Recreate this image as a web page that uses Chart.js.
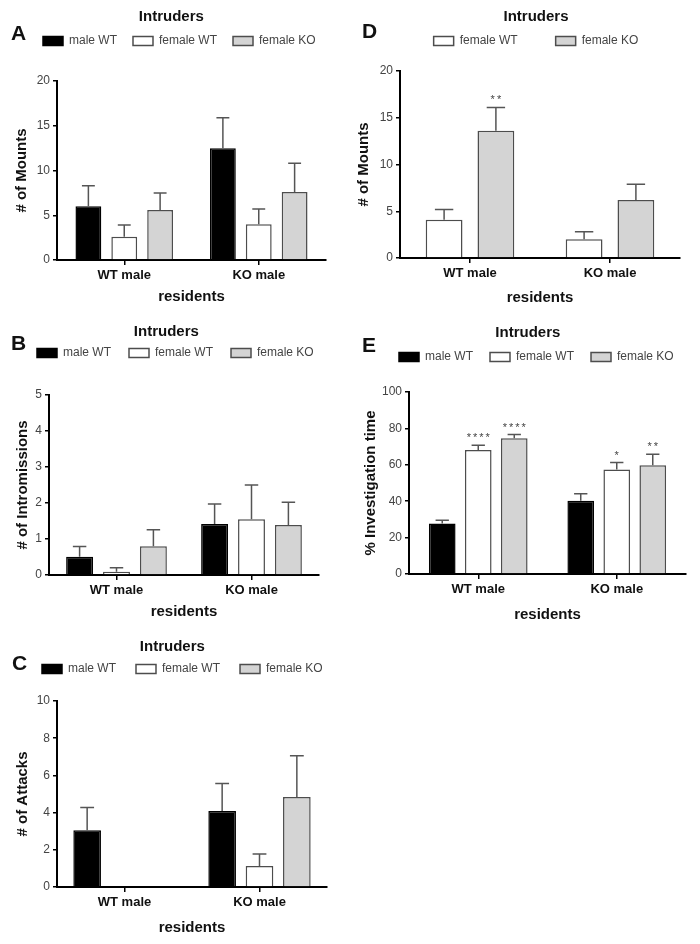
<!DOCTYPE html>
<html>
<head>
<meta charset="utf-8">
<title>Intruders / residents</title>
<script src="https://cdn.jsdelivr.net/npm/chart.js@4.4.1/dist/chart.umd.min.js"></script>
<style>
  html, body { margin: 0; padding: 0; background: #fff; }
  #page { position: relative; width: 700px; height: 944px; overflow: hidden; background: #fff; }
  #page canvas { position: absolute; }
  .panel-letter { position: absolute; font: bold 21px "Liberation Sans", Arial, sans-serif; color: #111; line-height: 1; }
</style>
</head>
<body>
<div id="page">
  <canvas id="chartA" width="350" height="310" style="left:0;top:0"></canvas>
  <canvas id="chartD" width="350" height="310" style="left:350px;top:0"></canvas>
  <canvas id="chartB" width="350" height="320" style="left:0;top:305px"></canvas>
  <canvas id="chartE" width="350" height="320" style="left:350px;top:305px"></canvas>
  <canvas id="chartC" width="350" height="319" style="left:0;top:625px"></canvas>
  <div class="panel-letter" style="left:11px;top:22px">A</div>
  <div class="panel-letter" style="left:362px;top:20px">D</div>
  <div class="panel-letter" style="left:11px;top:332px">B</div>
  <div class="panel-letter" style="left:362px;top:334px">E</div>
  <div class="panel-letter" style="left:12px;top:652px">C</div>
</div>
<script>
// categories (residents) and intruder groups
const residents = ['WT male', 'KO male'];
const intruderLabels = ['male WT', 'female WT', 'female KO'];

// A - # of Mounts (mean, SEM)
const mountsMaleWT = [6.0, 12.5];
const mountsMaleWTSem = [2.3, 3.4];
const mountsFemaleWT = [2.6, 4.0];
const mountsFemaleWTSem = [1.3, 1.7];
const mountsFemaleKO = [5.6, 7.6];
const mountsFemaleKOSem = [1.9, 3.2];

// B - # of Intromissions
const intromMaleWT = [0.51, 1.42];
const intromMaleWTSem = [0.28, 0.55];
const intromFemaleWT = [0.09, 1.55];
const intromFemaleWTSem = [0.11, 0.95];
const intromFemaleKO = [0.80, 1.39];
const intromFemaleKOSem = [0.46, 0.63];

// C - # of Attacks
const attacksMaleWT = [3.05, 4.09];
const attacksMaleWTSem = [1.23, 1.48];
const attacksFemaleWT = [0, 1.13];
const attacksFemaleWTSem = [0, 0.64];
const attacksFemaleKO = [0, 4.84];
const attacksFemaleKOSem = [0, 2.22];

// D - # of Mounts, female intruders only
const femMountsWT = [4.1, 2.0];
const femMountsWTSem = [1.1, 0.8];
const femMountsKO = [13.6, 6.2];
const femMountsKOSem = [2.5, 1.7];
const femMountsKOStars = ['**', ''];

// E - % Investigation time
const investMaleWT = [27.8, 40.2];
const investMaleWTSem = [1.8, 3.9];
const investFemaleWT = [68.2, 57.4];
const investFemaleWTSem = [2.5, 3.8];
const investFemaleWTStars = ['****', '*'];
const investFemaleKO = [74.6, 59.8];
const investFemaleKOSem = [2.0, 6.0];
const investFemaleKOStars = ['****', '**'];

// bar styles per intruder group
const STYLE_MALE_WT = { fill: '#000000', stroke: '#000000' };
const STYLE_FEMALE_WT = { fill: '#ffffff', stroke: '#4d4d4d' };
const STYLE_FEMALE_KO = { fill: '#d4d4d4', stroke: '#4d4d4d' };

Chart.defaults.font.family = '"Liberation Sans", Arial, sans-serif';

// Draws upward SEM bars (and significance stars) on top of each bar
const errorBarPlugin = {
    id: 'errorBars',
    afterDatasetsDraw(chart) {
        const ctx = chart.ctx;
        const yScale = chart.scales.y;
        ctx.save();
        chart.data.datasets.forEach((ds, i) => {
            const meta = chart.getDatasetMeta(i);
            meta.data.forEach((bar, j) => {
                const sem = ds.errors ? ds.errors[j] : 0;
                if (!sem) return;
                const top = yScale.getPixelForValue(ds.data[j] + sem);
                const capHalf = bar.width / 4;
                ctx.strokeStyle = '#555';
                ctx.lineWidth = 1.5;
                ctx.beginPath();
                ctx.moveTo(bar.x, bar.y);
                ctx.lineTo(bar.x, top);
                ctx.moveTo(bar.x - capHalf, top);
                ctx.lineTo(bar.x + capHalf, top);
                ctx.stroke();
                const star = ds.stars ? ds.stars[j] : '';
                if (star) {
                    ctx.fillStyle = '#444';
                    ctx.font = '11px "Liberation Sans", Arial, sans-serif';
                    ctx.textAlign = 'center';
                    ctx.textBaseline = 'alphabetic';
                    ctx.letterSpacing = '2px';
                    ctx.fillText(star, bar.x + 1, top - 4);
                    ctx.letterSpacing = '0px';
                }
            });
        });
        ctx.restore();
    }
};

function makeDataset(label, style, values, sem, stars, setup) {
    return {
        label: label, data: values, errors: sem, stars: stars || null,
        xAxisID: 'x', yAxisID: 'y',
        backgroundColor: style.fill, borderColor: style.stroke, borderWidth: 1.5,
        categoryPercentage: setup.catPct, barPercentage: setup.barPct
    };
}

function createPanel(canvasId, setup) {
    const canvas = document.getElementById(canvasId);
    if (!canvas) {
        console.error('Canvas not found: ' + canvasId);
        return null;
    }
    const ctx = canvas.getContext('2d');

    const config = {
        type: 'bar',
        data: { labels: residents, datasets: setup.datasets },
        options: {
            responsive: false, animation: false,
            layout: { padding: { left: setup.padLeft, top: setup.padTop, right: 0, bottom: 0 } },
            scales: {
                x: {
                    ticks: { color: '#111', font: { size: 13, weight: 'bold' }, padding: 3 },
                    grid: { offset: false, drawOnChartArea: false, drawTicks: true, tickLength: 5, color: '#000', lineWidth: 1.5 },
                    border: { color: '#000', width: 2 },
                    title: {
                        display: true, text: 'residents', color: '#111',
                        font: { size: 15, weight: 'bold' }, padding: { top: 0, bottom: setup.xTitlePad }
                    },
                    afterFit: scale => { scale.height = setup.xAxisHeight; scale.paddingRight = setup.rightGap; }
                },
                y: {
                    min: 0, max: setup.yMax,
                    ticks: { stepSize: setup.yStep, color: '#444', font: { size: 12 }, padding: 3 },
                    grid: { drawOnChartArea: false, drawTicks: true, tickLength: 4, color: '#000', lineWidth: 1.5 },
                    border: { color: '#000', width: 2 },
                    title: {
                        display: true, text: setup.yTitle, color: '#111',
                        font: { size: 15, weight: 'bold' }, padding: { top: setup.yTitleShift, bottom: 0 }
                    },
                    afterFit: scale => { scale.width = setup.yAxisWidth; }
                },
                // empty band between the legend and the plot
                gap: {
                    type: 'linear', position: 'top', display: true,
                    grid: { display: false }, border: { display: false }, ticks: { display: false },
                    afterFit: scale => {
                        const legendH = scale.chart.legend ? scale.chart.legend.height : 0;
                        scale.height = Math.max(0, setup.plotTop - setup.padTop - legendH);
                    }
                }
            },
            plugins: {
                legend: {
                    display: true, position: 'top', align: setup.legendAlign,
                    labels: { boxWidth: 20, boxHeight: 9, padding: setup.legendGap, color: '#444', font: { size: 12 } },
                    title: {
                        display: true, text: 'Intruders', color: '#111',
                        font: { size: 15, weight: 'bold' }, padding: { top: 0, bottom: setup.legendTitleGap }
                    }
                },
                tooltip: { enabled: false }
            }
        },
        plugins: [errorBarPlugin]
    };

    return new Chart(ctx, config);
}

// --- Panel A ---
const setupA = { catPct: 0.80, barPct: 0.72 };
setupA.datasets = [
    makeDataset(intruderLabels[0], STYLE_MALE_WT, mountsMaleWT, mountsMaleWTSem, null, setupA),
    makeDataset(intruderLabels[1], STYLE_FEMALE_WT, mountsFemaleWT, mountsFemaleWTSem, null, setupA),
    makeDataset(intruderLabels[2], STYLE_FEMALE_KO, mountsFemaleKO, mountsFemaleKOSem, null, setupA)
];
Object.assign(setupA, {
    padLeft: 27, padTop: 9.5, legendAlign: 'start', legendGap: 16, legendTitleGap: -8.5,
    yAxisWidth: 30, plotTop: 81, xAxisHeight: 50, rightGap: 24, xTitlePad: 4,
    yMax: 20, yStep: 5, yTitle: '# of Mounts', yTitleShift: -14
});
createPanel('chartA', setupA);

// --- Panel D ---
const setupD = { catPct: 0.74, barPct: 0.71 };
setupD.datasets = [
    makeDataset(intruderLabels[1], STYLE_FEMALE_WT, femMountsWT, femMountsWTSem, null, setupD),
    makeDataset(intruderLabels[2], STYLE_FEMALE_KO, femMountsKO, femMountsKOSem, femMountsKOStars, setupD)
];
Object.assign(setupD, {
    padLeft: 22, padTop: 9.5, legendAlign: 'center', legendGap: 38, legendTitleGap: -30.5,
    yAxisWidth: 28, plotTop: 71, xAxisHeight: 52, rightGap: 20, xTitlePad: 3,
    yMax: 20, yStep: 5, yTitle: '# of Mounts', yTitleShift: -17
});
createPanel('chartD', setupD);

// --- Panel B ---
const setupB = { catPct: 0.82, barPct: 0.73 };
setupB.datasets = [
    makeDataset(intruderLabels[0], STYLE_MALE_WT, intromMaleWT, intromMaleWTSem, null, setupB),
    makeDataset(intruderLabels[1], STYLE_FEMALE_WT, intromFemaleWT, intromFemaleWTSem, null, setupB),
    makeDataset(intruderLabels[2], STYLE_FEMALE_KO, intromFemaleKO, intromFemaleKOSem, null, setupB)
];
Object.assign(setupB, {
    padLeft: 19, padTop: 19.5, legendAlign: 'start', legendGap: 18, legendTitleGap: -13.5,
    yAxisWidth: 30, plotTop: 90, xAxisHeight: 50, rightGap: 31, xTitlePad: 4,
    yMax: 5, yStep: 1, yTitle: '# of Intromissions', yTitleShift: -5
});
createPanel('chartB', setupB);

// --- Panel E ---
const setupE = { catPct: 0.78, barPct: 0.74 };
setupE.datasets = [
    makeDataset(intruderLabels[0], STYLE_MALE_WT, investMaleWT, investMaleWTSem, null, setupE),
    makeDataset(intruderLabels[1], STYLE_FEMALE_WT, investFemaleWT, investFemaleWTSem, investFemaleWTStars, setupE),
    makeDataset(intruderLabels[2], STYLE_FEMALE_KO, investFemaleKO, investFemaleKOSem, investFemaleKOStars, setupE)
];
Object.assign(setupE, {
    padLeft: 32, padTop: 20.5, legendAlign: 'start', legendGap: 17, legendTitleGap: -9.5,
    yAxisWidth: 27, plotTop: 87, xAxisHeight: 51, rightGap: 14, xTitlePad: 1,
    yMax: 100, yStep: 20, yTitle: '% Investigation time', yTitleShift: -20
});
createPanel('chartE', setupE);

// --- Panel C ---
const setupC = { catPct: 0.83, barPct: 0.74 };
setupC.datasets = [
    makeDataset(intruderLabels[0], STYLE_MALE_WT, attacksMaleWT, attacksMaleWTSem, null, setupC),
    makeDataset(intruderLabels[1], STYLE_FEMALE_WT, attacksFemaleWT, attacksFemaleWTSem, null, setupC),
    makeDataset(intruderLabels[2], STYLE_FEMALE_KO, attacksFemaleKO, attacksFemaleKOSem, null, setupC)
];
Object.assign(setupC, {
    padLeft: 22, padTop: 14.5, legendAlign: 'start', legendGap: 20, legendTitleGap: -14.5,
    yAxisWidth: 35, plotTop: 76, xAxisHeight: 57, rightGap: 23, xTitlePad: 7,
    yMax: 10, yStep: 2, yTitle: '# of Attacks', yTitleShift: -8.5
});
createPanel('chartC', setupC);
</script>
</body>
</html>
